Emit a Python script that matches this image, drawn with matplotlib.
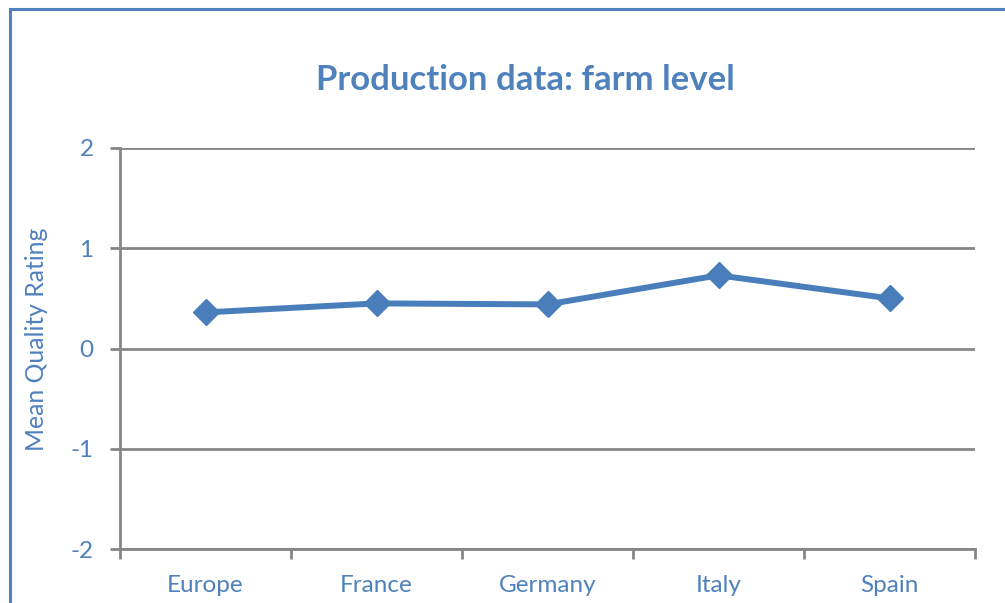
import matplotlib
matplotlib.use("Agg")
import matplotlib.pyplot as plt
from matplotlib.patches import Rectangle

categories = ["Europe", "France", "Germany", "Italy", "Spain"]
values = [0.36, 0.45, 0.44, 0.73, 0.50]
yticks = [-2, -1, 0, 1, 2]
title = "Production data: farm level"
ylabel = "Mean Quality Rating"

blue = "#4a7ebb"
textblue = "#4f81bd"
grid = "#868686"

plt.rcParams['font.family'] = ['Lato', 'DejaVu Sans']

W, H = 1005, 603
fig = plt.figure(figsize=(W/100, H/100), dpi=100)
ax = fig.add_axes([120/W, 1-549/H, (975-120)/W, (549-148)/H])

x = list(range(len(categories)))
ax.plot(x, values, color=blue, lw=4.3, marker='D', markersize=13, solid_joinstyle='miter', zorder=3)

ax.set_xlim(-0.5, len(categories)-0.5)
ax.set_ylim(-2, 2)
ax.set_yticks(yticks)
ax.set_yticklabels([str(v) for v in yticks])
ax.set_xticks(x)
ax.set_xticklabels(categories)
ax.set_xticks([i-0.5 for i in range(len(categories)+1)], minor=True)
ax.tick_params(axis='x', which='major', length=0, pad=19, labelsize=17.5, labelcolor=textblue)
ax.tick_params(axis='x', which='minor', length=7, width=2, color=grid, direction='out')
ax.tick_params(axis='y', length=7, width=2, color=grid, pad=12, labelsize=17.5, labelcolor=textblue)
ax.yaxis.grid(True, color=grid, lw=2)
ax.set_axisbelow(True)
for s in ['top', 'right']:
    ax.spines[s].set_visible(False)
for s in ['left', 'bottom']:
    ax.spines[s].set_color(grid)
    ax.spines[s].set_linewidth(2)

fig.text(37/W, 1-339/H, ylabel, fontsize=17.8, color=textblue, rotation=90,
         ha='center', va='center')
fig.text(525/W, 1-80/H, title, fontsize=25, fontweight='bold', color=textblue, ha='center', va='center')

fig.patches.append(Rectangle((9.5/W, -0.1), 2, 1.1 - 9.5/H, transform=fig.transFigure,
                             fill=False, edgecolor=textblue, lw=2.2, clip_on=False))

fig.savefig("out.png", dpi=100, facecolor='white')
